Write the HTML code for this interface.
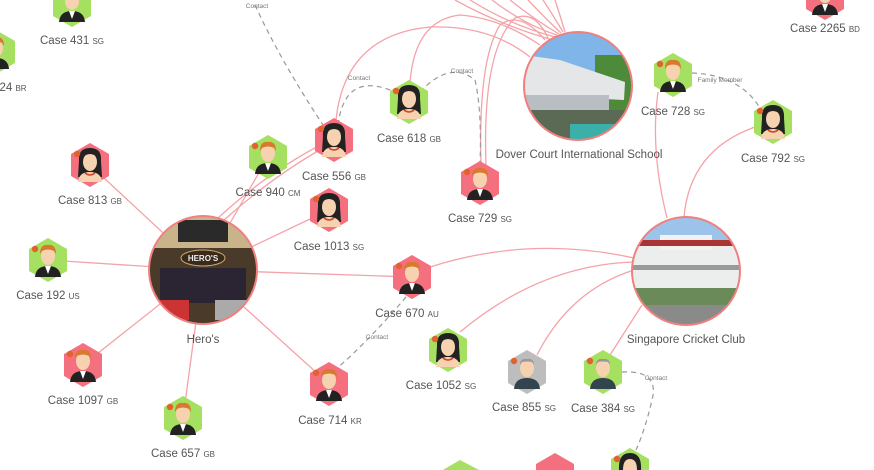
<!DOCTYPE html>
<html><head><meta charset="utf-8"><style>
html,body{margin:0;padding:0;background:#fff;width:874px;height:470px;overflow:hidden;}
svg{display:block;font-family:"Liberation Sans",sans-serif;}
.l{font-size:11.5px;fill:#555;text-anchor:middle;}
.c{font-size:8px;}
.s{font-size:6.5px;fill:#777;text-anchor:middle;}
.e{stroke:#f4a3a8;stroke-width:1.3;fill:none;}
.d{stroke:#999;stroke-width:1.2;stroke-dasharray:5 4;fill:none;}
</style></head><body>
<svg width="874" height="470" viewBox="0 0 874 470">
<defs>
<polygon id="hx" points="0,-22 19,-11 19,11 0,22 -19,11 -19,-11" stroke-linejoin="round"/>
<g id="f">
 <path d="M-11,-4 Q-12,-17 0,-17 Q12,-17 11,-4 L12,12 L-12,12 Z" fill="#222"/>
 <ellipse cx="0" cy="-3" rx="7" ry="9" fill="#f6d2b0"/>
 <path d="M-7,-8 Q0,-14 7,-8 L7,-11 Q0,-17 -7,-11Z" fill="#222"/>
 <path d="M-12,17 Q-11,7 0,7 Q11,7 12,17 Z" fill="#f6d2b0"/>
 <path d="M-5,8 Q0,12 5,8" stroke="#d0452c" stroke-width="1.5" fill="none"/>
 <circle cx="-13" cy="-11" r="3.2" fill="#e0622e"/>
</g>
<g id="m">
 <ellipse cx="0" cy="-4" rx="7" ry="9" fill="#f6d2b0"/>
 <path d="M-8,-6 Q-8,-16 0,-15 Q8,-16 8,-6 L6,-9 Q0,-12 -6,-9Z" fill="#d77a2e"/>
 <path d="M-13,17 Q-12,6 0,6 Q12,6 13,17 Z" fill="#222"/>
 <path d="M-3,6 L0,14 L3,6Z" fill="#fff"/>
 <circle cx="-13" cy="-11" r="3.2" fill="#e0622e"/>
</g>
<g id="o">
 <ellipse cx="0" cy="-4" rx="7" ry="9" fill="#f6d2b0"/>
 <path d="M-7,-7 Q-7,-14 0,-13 Q7,-14 7,-7 L5,-10 Q0,-11 -5,-10Z" fill="#999"/>
 <path d="M-13,17 Q-12,6 0,6 Q12,6 13,17 Z" fill="#34444f"/>
 <circle cx="-13" cy="-11" r="3.2" fill="#e0622e"/>
</g>
<clipPath id="c1"><circle cx="203" cy="270" r="54"/></clipPath>
<clipPath id="c2"><circle cx="578" cy="86" r="54"/></clipPath>
<clipPath id="c3"><circle cx="686" cy="271" r="54"/></clipPath>
</defs>

<!-- edges -->
<g class="e">
<line x1="203" y1="270" x2="90" y2="165"/>
<line x1="203" y1="270" x2="48" y2="260"/>
<line x1="203" y1="270" x2="83" y2="365"/>
<line x1="203" y1="270" x2="183" y2="418"/>
<line x1="203" y1="270" x2="329" y2="384"/>
<line x1="203" y1="270" x2="329" y2="210"/>
<line x1="203" y1="270" x2="268" y2="157"/>
<path d="M218,218 Q270,170 330,140"/>
<path d="M224,220 Q280,170 338,140"/>
<line x1="203" y1="270" x2="412" y2="277"/>
<path d="M430,267 Q530,235 634,258"/>
<path d="M460,332 Q540,265 634,262"/>
<path d="M537,355 Q570,290 634,270"/>
<line x1="610" y1="355" x2="642" y2="305"/>
<path d="M667,218 Q650,150 658,92"/>
<path d="M684,217 Q690,150 755,127"/>
<path d="M336,120 Q345,35 430,27 Q490,25 530,57"/>
<path d="M410,82 Q415,20 460,15 Q500,18 540,45"/>
<path d="M481,165 Q478,60 500,25 Q520,10 545,40"/>
<path d="M486,165 Q482,50 515,18 Q535,10 548,38"/>
<path d="M455,0 Q500,25 553,40"/>
<path d="M470,0 Q510,25 555,37"/>
<path d="M492,0 Q525,25 557,35"/>
<path d="M510,0 Q535,20 559,34"/>
<path d="M528,0 Q545,18 561,33"/>
<path d="M543,0 Q553,15 563,32"/>
<path d="M555,0 Q560,15 565,32"/>
</g>
<!-- dashed -->
<g class="d">
<path d="M255,5 Q280,60 325,128"/>
<path d="M338,125 Q345,70 395,92"/>
<path d="M420,92 Q450,60 475,80 Q482,110 480,165"/>
<path d="M692,73 Q740,75 760,108"/>
<path d="M412,290 Q370,340 335,370"/>
<path d="M622,372 Q660,370 652,400 Q645,430 636,450"/>
</g>
<g>
<text class="s" x="257" y="8">Contact</text>
<text class="s" x="359" y="80">Contact</text>
<text class="s" x="462" y="73">Contact</text>
<text class="s" x="720" y="82">Family Member</text>
<text class="s" x="377" y="339">Contact</text>
<text class="s" x="656" y="380">Contact</text>
</g>

<!-- photo circles -->
<g clip-path="url(#c1)">
<rect x="149" y="216" width="108" height="108" fill="#4a3a2a"/>
<rect x="149" y="216" width="108" height="32" fill="#c9b38a"/>
<rect x="178" y="220" width="50" height="22" fill="#2a2a2a"/>
<ellipse cx="203" cy="258" rx="22" ry="8" fill="#3a2a1a" stroke="#c9a878"/>
<text x="203" y="261" font-size="8" fill="#eee" text-anchor="middle" font-weight="bold">HERO'S</text>
<rect x="160" y="268" width="86" height="35" fill="#2b2432"/>
<rect x="149" y="300" width="40" height="20" fill="#c33"/>
<rect x="215" y="300" width="45" height="20" fill="#aaa"/>
</g>
<circle cx="203" cy="270" r="54" fill="none" stroke="#f08080" stroke-width="2"/>

<g clip-path="url(#c2)">
<rect x="524" y="32" width="108" height="108" fill="#7fb5e8"/>
<rect x="595" y="55" width="40" height="70" fill="#4d8a3a"/>
<polygon points="524,55 560,60 625,82 624,100 524,95" fill="#e4e6e8"/>
<rect x="524" y="95" width="85" height="18" fill="#b8bec2"/>
<rect x="524" y="110" width="108" height="30" fill="#5a6a55"/>
<rect x="570" y="124" width="50" height="16" fill="#3ab0a8"/>
</g>
<circle cx="578" cy="86" r="54" fill="none" stroke="#f08080" stroke-width="2"/>

<g clip-path="url(#c3)">
<rect x="632" y="217" width="108" height="108" fill="#9cc4ea"/>
<rect x="632" y="245" width="108" height="50" fill="#eceeee"/>
<rect x="660" y="235" width="52" height="15" fill="#f2f2f2"/>
<rect x="632" y="240" width="108" height="6" fill="#a33"/>
<rect x="632" y="265" width="108" height="5" fill="#999"/>
<rect x="632" y="288" width="108" height="37" fill="#6a8a5a"/>
<rect x="640" y="305" width="100" height="20" fill="#8a8a88"/>
</g>
<circle cx="686" cy="271" r="54" fill="none" stroke="#f08080" stroke-width="2"/>

<!-- hex nodes -->
<g>
<g transform="translate(72,5)"><use href="#hx" fill="#a6e060"/><use href="#m"/></g>
<g transform="translate(-4,52)"><use href="#hx" fill="#a6e060"/><use href="#m"/></g>
<g transform="translate(90,165)"><use href="#hx" fill="#f4707e"/><use href="#f"/></g>
<g transform="translate(48,260)"><use href="#hx" fill="#a6e060"/><use href="#m"/></g>
<g transform="translate(83,365)"><use href="#hx" fill="#f4707e"/><use href="#m"/></g>
<g transform="translate(183,418)"><use href="#hx" fill="#a6e060"/><use href="#m"/></g>
<g transform="translate(268,157)"><use href="#hx" fill="#a6e060"/><use href="#m"/></g>
<g transform="translate(334,140)"><use href="#hx" fill="#f4707e"/><use href="#f"/></g>
<g transform="translate(329,210)"><use href="#hx" fill="#f4707e"/><use href="#f"/></g>
<g transform="translate(409,102)"><use href="#hx" fill="#a6e060"/><use href="#f"/></g>
<g transform="translate(480,183)"><use href="#hx" fill="#f4707e"/><use href="#m"/></g>
<g transform="translate(673,75)"><use href="#hx" fill="#a6e060"/><use href="#m"/></g>
<g transform="translate(773,122)"><use href="#hx" fill="#a6e060"/><use href="#f"/></g>
<g transform="translate(825,-2)"><use href="#hx" fill="#f4707e"/><use href="#m"/></g>
<g transform="translate(412,277)"><use href="#hx" fill="#f4707e"/><use href="#m"/></g>
<g transform="translate(329,384)"><use href="#hx" fill="#f4707e"/><use href="#m"/></g>
<g transform="translate(448,350)"><use href="#hx" fill="#a6e060"/><use href="#f"/></g>
<g transform="translate(527,372)"><use href="#hx" fill="#bdbdbd"/><use href="#o"/></g>
<g transform="translate(603,372)"><use href="#hx" fill="#a6e060"/><use href="#o"/></g>
<polygon points="441,470 441,471 460,460 479,470" fill="#a6e060"/>
<polygon points="536,464 555,453 574,464 574,470 536,470" fill="#f4707e"/>
<polygon points="611,459 630,448 649,459 649,470 611,470" fill="#a6e060"/>
<path d="M619,470 Q618,453 630,453 Q642,453 641,470 Z" fill="#222"/>
<path d="M623,470 Q623,459 630,459 Q637,459 637,470 Z" fill="#f6d2b0"/>
<circle cx="617" cy="459" r="3.2" fill="#e0622e"/>
</g>

<!-- labels -->
<g class="l">
<text x="72" y="44">Case 431 <tspan class="c">SG</tspan></text>
<text x="13" y="91">24 <tspan class="c">BR</tspan></text>
<text x="90" y="204">Case 813 <tspan class="c">GB</tspan></text>
<text x="48" y="299">Case 192 <tspan class="c">US</tspan></text>
<text x="83" y="404">Case 1097 <tspan class="c">GB</tspan></text>
<text x="183" y="457">Case 657 <tspan class="c">GB</tspan></text>
<text x="203" y="343">Hero's</text>
<text x="268" y="196">Case 940 <tspan class="c">CM</tspan></text>
<text x="334" y="180">Case 556 <tspan class="c">GB</tspan></text>
<text x="329" y="250">Case 1013 <tspan class="c">SG</tspan></text>
<text x="409" y="142">Case 618 <tspan class="c">GB</tspan></text>
<text x="480" y="222">Case 729 <tspan class="c">SG</tspan></text>
<text x="579" y="158">Dover Court International School</text>
<text x="673" y="115">Case 728 <tspan class="c">SG</tspan></text>
<text x="773" y="162">Case 792 <tspan class="c">SG</tspan></text>
<text x="825" y="32">Case 2265 <tspan class="c">BD</tspan></text>
<text x="686" y="343">Singapore Cricket Club</text>
<text x="407" y="317">Case 670 <tspan class="c">AU</tspan></text>
<text x="330" y="424">Case 714 <tspan class="c">KR</tspan></text>
<text x="441" y="389">Case 1052 <tspan class="c">SG</tspan></text>
<text x="524" y="411">Case 855 <tspan class="c">SG</tspan></text>
<text x="603" y="412">Case 384 <tspan class="c">SG</tspan></text>
</g>
</svg>
</body></html>
